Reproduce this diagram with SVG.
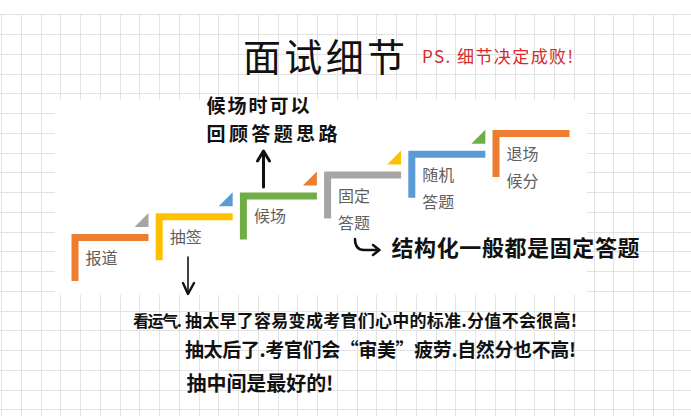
<svg xmlns="http://www.w3.org/2000/svg" width="691" height="416" viewBox="0 0 691 416">
  <style>
    .grid { stroke: #e2e2e2; stroke-width: 1; fill: none; }
    .lbl { font-family: 'Noto Sans CJK SC', 'Noto Sans', sans-serif; font-size: 16px; fill: #5f5f5f; }
    .hand { font-family: 'Noto Sans CJK SC', 'Noto Sans', sans-serif; font-weight: 700; fill: #111; }
    .conn { stroke: #111; fill: none; stroke-linecap: round; stroke-linejoin: round; }
    .orange { fill: #ED7D31; }
    .yellow { fill: #FFC000; }
    .green { fill: #70AD47; }
    .gray { fill: #A5A5A5; }
    .blue { fill: #5B9BD5; }
  </style>
  <rect x="0" y="0" width="691" height="416" fill="#ffffff"/>
  <path class="grid" d="M1.5 14V416 M21.5 14V416 M41.5 14V416 M60.5 14V416 M80.5 14V416 M100.5 14V416 M120.5 14V416 M139.5 14V416 M159.5 14V416 M179.5 14V416 M199.5 14V416 M218.5 14V416 M238.5 14V416 M258.5 14V416 M278.5 14V416 M297.5 14V416 M317.5 14V416 M337.5 14V416 M357.5 14V416 M376.5 14V416 M396.5 14V416 M416.5 14V416 M436.5 14V416 M455.5 14V416 M475.5 14V416 M495.5 14V416 M515.5 14V416 M534.5 14V416 M554.5 14V416 M574.5 14V416 M594.5 14V416 M613.5 14V416 M633.5 14V416 M653.5 14V416 M673.5 14V416 M0 14.5H691 M0 34.5H691 M0 54.5H691 M0 74.5H691 M0 93.5H691 M0 113.5H691 M0 133.5H691 M0 153.5H691 M0 172.5H691 M0 192.5H691 M0 212.5H691 M0 232.5H691 M0 251.5H691 M0 271.5H691 M0 291.5H691 M0 311.5H691 M0 330.5H691 M0 350.5H691 M0 370.5H691 M0 390.5H691 M0 409.5H691"/>
  <rect x="55" y="100" width="532" height="195" fill="#ffffff"/>

  <!-- Title -->
  <text x="243" y="70.5" font-family="'Noto Sans CJK SC', sans-serif" font-size="38" fill="#111" textLength="162" lengthAdjust="spacing">面试细节</text>
  <text x="422" y="63" font-family="'Noto Sans CJK SC', sans-serif" font-size="17" fill="#d8282b" textLength="151" lengthAdjust="spacing">PS. 细节决定成败!</text>

  <!-- Steps -->
  <g id="step-baodao">
    <path class="orange" d="M71.5 234H148.5V241H78.5V281H71.5Z"/>
    <polygon class="gray" points="134.5,227 148.5,227 148.5,213"/>
    <text class="lbl" x="85.5" y="264">报道</text>
  </g>
  <g id="step-chouqian">
    <path class="yellow" d="M155.7 213.2H232.7V220.2H162.7V260.2H155.7Z"/>
    <polygon class="blue" points="218.7,206.2 232.7,206.2 232.7,192.2"/>
    <text class="lbl" x="169.7" y="243.2">抽签</text>
  </g>
  <g id="step-houchang">
    <path class="green" d="M239.9 192.4H316.9V199.4H246.9V239.4H239.9Z"/>
    <polygon class="orange" points="302.9,185.4 316.9,185.4 316.9,171.4"/>
    <text class="lbl" x="253.9" y="222.4">候场</text>
  </g>
  <g id="step-guding">
    <path class="gray" d="M324.1 171.6H401.1V178.6H331.1V218.6H324.1Z"/>
    <polygon class="yellow" points="387.1,164.6 401.1,164.6 401.1,150.6"/>
    <text class="lbl" x="338.1" y="201.6">固定</text>
    <text class="lbl" x="338.1" y="228.6">答题</text>
  </g>
  <g id="step-suiji">
    <path class="blue" d="M408.3 150.8H485.3V157.8H415.3V197.8H408.3Z"/>
    <polygon class="green" points="471.3,143.8 485.3,143.8 485.3,129.8"/>
    <text class="lbl" x="422.3" y="180.8">随机</text>
    <text class="lbl" x="422.3" y="207.8">答题</text>
  </g>
  <g id="step-tuichang">
    <path class="orange" d="M492.5 130H569.5V137H499.5V177H492.5Z"/>
    <text class="lbl" x="506.5" y="160">退场</text>
    <text class="lbl" x="506.5" y="187">候分</text>
  </g>

  <!-- Connectors -->
  <g id="connectors">
    <path class="conn" stroke-width="3" d="M263.5 187V152 M257.5 161L263.5 151L269.5 161"/>
    <path class="conn" stroke-width="1.6" d="M188 257V293"/>
    <path class="conn" stroke-width="2.4" d="M183 283L188 294L194 283"/>
    <path class="conn" stroke-width="2.5" d="M355 239Q355 250 364 250H379 M373 245L379.5 250L373 255"/>
  </g>

  <!-- Annotations -->
  <g id="note-houchang">
    <text class="hand" x="206.5" y="113" font-size="19" textLength="103" lengthAdjust="spacing">候场时可以</text>
    <text class="hand" x="206.5" y="141" font-size="19" textLength="131" lengthAdjust="spacing">回顾答题思路</text>
  </g>
  <g id="note-guding">
    <text class="hand" x="391.5" y="256" font-size="22" textLength="248" lengthAdjust="spacing">结构化一般都是固定答题</text>
  </g>
  <g id="note-chouqian">
    <text class="hand" x="133" y="327" font-size="16" textLength="49" lengthAdjust="spacing">看运气.</text>
    <text class="hand" x="185" y="327" font-size="17" textLength="392" lengthAdjust="spacing">抽太早了容易变成考官们心中的标准.分值不会很高!</text>
    <text class="hand" x="185" y="357" font-size="19" textLength="391" lengthAdjust="spacing">抽太后了.考官们会“审美”疲劳.自然分也不高!</text>
    <text class="hand" x="186.5" y="391" font-size="20" textLength="147" lengthAdjust="spacing">抽中间是最好的!</text>
  </g>
</svg>
